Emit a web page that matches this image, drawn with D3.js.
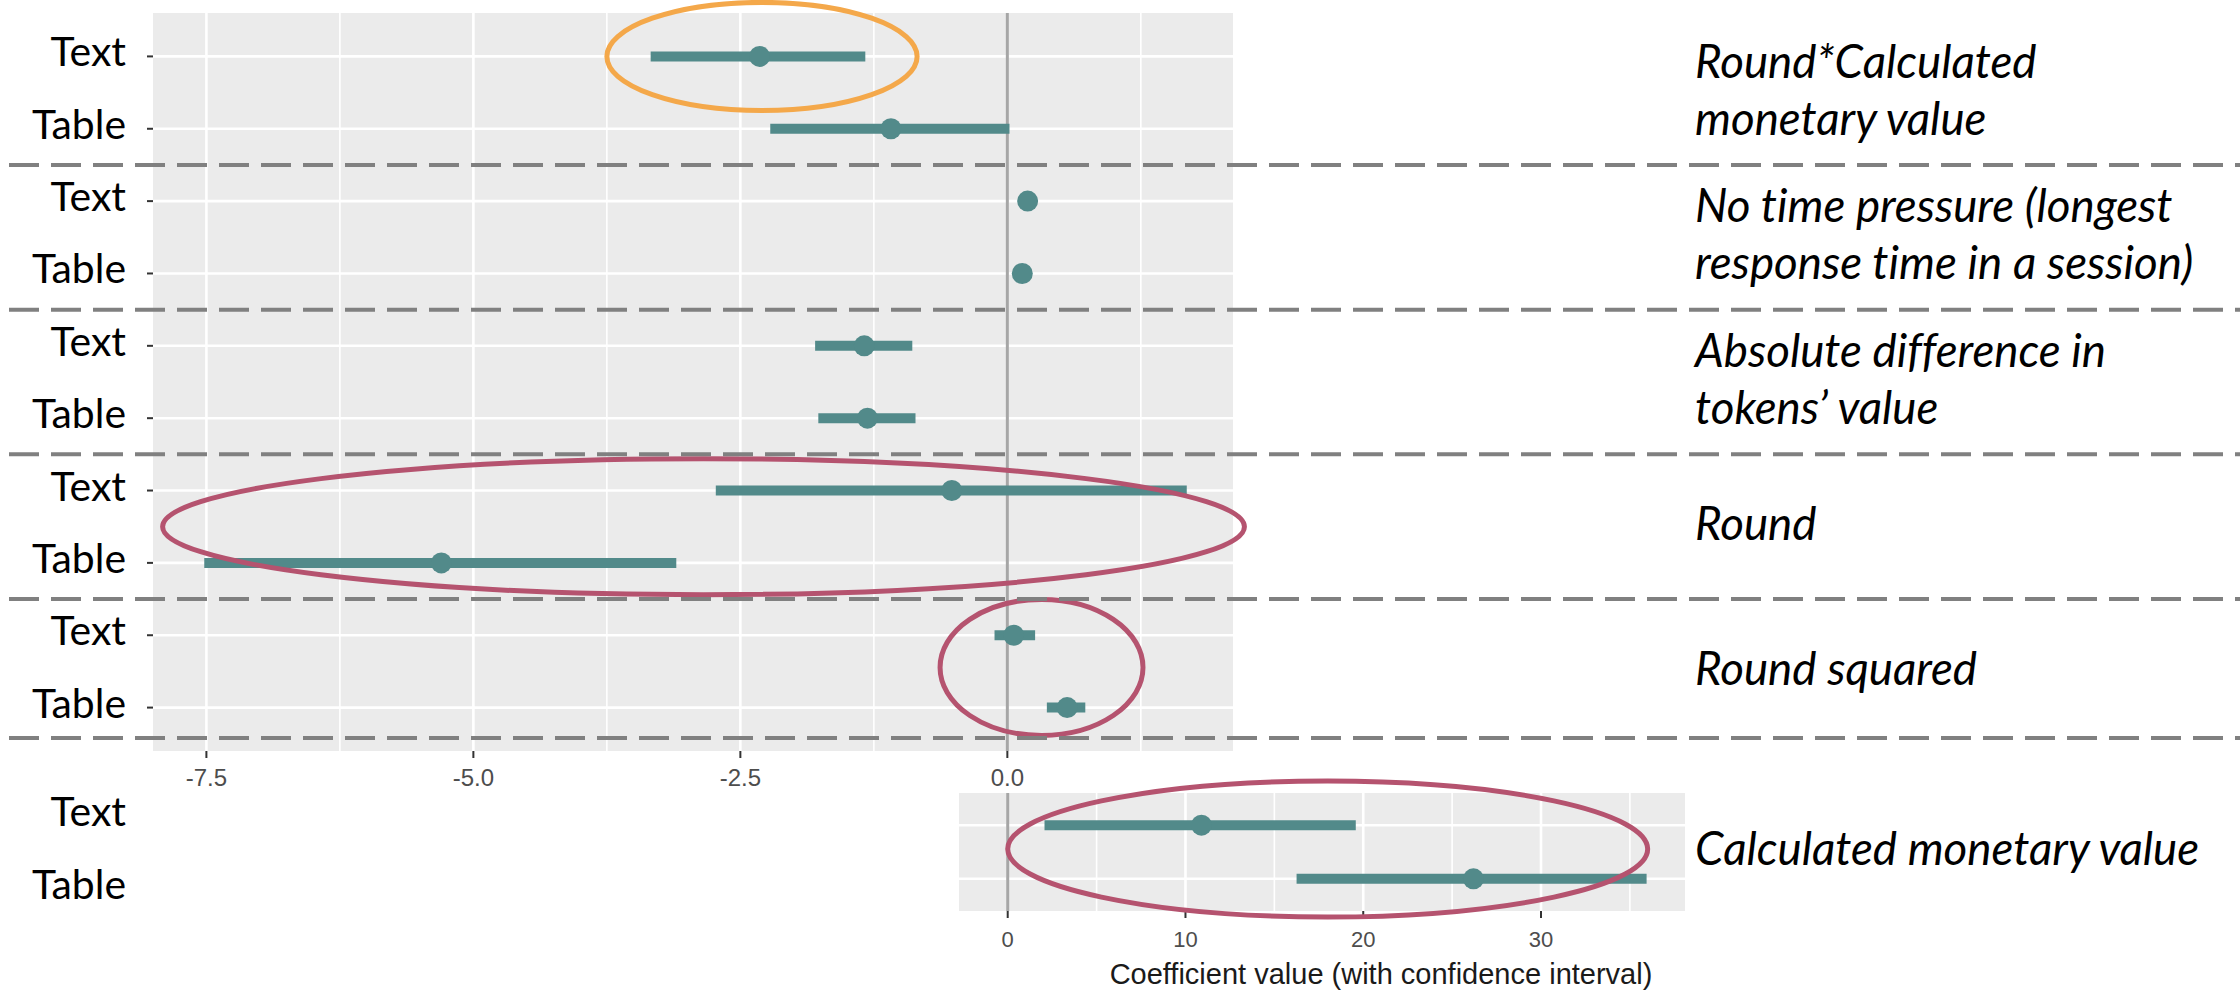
<!DOCTYPE html>
<html>
<head>
<meta charset="utf-8">
<script src="https://cdn.jsdelivr.net/npm/d3@7"></script>
<style>
  html, body { margin: 0; padding: 0; background: #fff; }
  svg { display: block; }
  text { font-variant-ligatures: none; }
</style>
</head>
<body>
<svg id="chart" width="2240" height="991"></svg>
<script>
// coefficient plot: Text vs Table, one pair of rows per regressor
const groupLabels = [
  ['Round*Calculated', 'monetary value'],
  ['No time pressure (longest', 'response time in a session)'],
  ['Absolute difference in', 'tokens’ value'],
  ['Round'],
  ['Round squared']
]
const variants = ['Text', 'Table']

const estimate = [-2.32, -1.09, 0.19, 0.14, -1.34, -1.31, -0.52, -5.30, 0.06, 0.56]
const ciLow = [-3.34, -2.22, 0.15, 0.10, -1.80, -1.77, -2.73, -7.52, -0.12, 0.37]
const ciHigh = [-1.33, 0.02, 0.23, 0.18, -0.89, -0.86, 1.68, -3.10, 0.26, 0.73]

const cmvLabel = ['Calculated monetary value']
const cmvEstimate = [10.9, 26.2]
const cmvLow = [2.07, 16.25]
const cmvHigh = [19.58, 35.94]

const topTicks = [-7.5, -5.0, -2.5, 0.0]
const topMinor = [-6.25, -3.75, -1.25, 1.25]
const bottomTicks = [0, 10, 20, 30]
const bottomMinor = [5, 15, 25, 35]
const xTitle = 'Coefficient value (with confidence interval)'

const TEAL = '#528a8a'
const ORANGE = '#f4a84a'
const PLUM = '#b5536f'

const svg = d3.select('#chart')

/**
 * Draws one ggplot-like panel with dot-and-whisker rows.
 */
function drawPanel (g, opts) {
  const { x, y, rows, est, lo, hi, major, minor, left, right, top, bottom } = opts
  g.append('rect')
    .attr('x', left).attr('y', top)
    .attr('width', right - left).attr('height', bottom - top)
    .attr('fill', '#ebebeb')

  g.selectAll('.minor').data(minor).enter().append('line')
    .attr('x1', d => x(d)).attr('x2', d => x(d))
    .attr('y1', top).attr('y2', bottom)
    .attr('stroke', '#fff').attr('stroke-width', 1.6)

  g.selectAll('.major').data(major).enter().append('line')
    .attr('x1', d => x(d)).attr('x2', d => x(d))
    .attr('y1', top).attr('y2', bottom)
    .attr('stroke', '#fff').attr('stroke-width', 2.6)

  g.selectAll('.hgrid').data(rows).enter().append('line')
    .attr('x1', left).attr('x2', right)
    .attr('y1', d => y(d)).attr('y2', d => y(d))
    .attr('stroke', '#fff').attr('stroke-width', 2.6)

  // zero reference line
  g.append('line')
    .attr('x1', x(0)).attr('x2', x(0))
    .attr('y1', top).attr('y2', bottom)
    .attr('stroke', '#a6a6a6').attr('stroke-width', 3)

  g.selectAll('.ci').data(rows).enter().append('line')
    .attr('x1', (d, i) => x(lo[i])).attr('x2', (d, i) => x(hi[i]))
    .attr('y1', d => y(d)).attr('y2', d => y(d))
    .attr('stroke', TEAL).attr('stroke-width', 10)

  g.selectAll('.pt').data(rows).enter().append('circle')
    .attr('cx', (d, i) => x(est[i])).attr('cy', d => y(d))
    .attr('r', 10.5)
    .attr('fill', TEAL)

  // x axis: ticks + labels
  const axis = g.append('g').attr('transform', 'translate(0,' + bottom + ')')
  axis.selectAll('line').data(major).enter().append('line')
    .attr('x1', d => x(d)).attr('x2', d => x(d))
    .attr('y1', 0).attr('y2', 7)
    .attr('stroke', '#333').attr('stroke-width', 2)
  axis.selectAll('text').data(major).enter().append('text')
    .attr('x', d => x(d))
    .attr('y', opts.labelDy)
    .attr('text-anchor', 'middle')
    .attr('font-family', 'Liberation Sans, Arial, sans-serif')
    .attr('font-size', opts.labelSize)
    .attr('fill', '#4d4d4d')
    .text(d => opts.fmt(d).replace('\u2212', '-'))
}

/* ---------------- top panel ---------------- */
const topBox = { left: 153, right: 1233, top: 13, bottom: 751 }
const rowIds = d3.range(estimate.length)
const xTop = d3.scaleLinear().domain([-8.0, 2.113]).range([topBox.left, topBox.right])
const yTop = d3.scalePoint().domain(rowIds).range([topBox.top, topBox.bottom]).padding(0.6)

drawPanel(svg.append('g'), {
  x: xTop, y: yTop, rows: rowIds, est: estimate, lo: ciLow, hi: ciHigh,
  major: topTicks, minor: topMinor, ...topBox,
  labelDy: 35, labelSize: 24, fmt: d3.format('.1f')
})

/* ---------------- bottom panel ---------------- */
const botBox = { left: 959, right: 1685, top: 793, bottom: 911 }
const botIds = d3.range(cmvEstimate.length)
const xBot = d3.scaleLinear().domain([-2.74, 38.1]).range([botBox.left, botBox.right])
const yBot = d3.scalePoint().domain(botIds).range([botBox.top, botBox.bottom]).padding(0.6)

drawPanel(svg.append('g'), {
  x: xBot, y: yBot, rows: botIds, est: cmvEstimate, lo: cmvLow, hi: cmvHigh,
  major: bottomTicks, minor: bottomMinor, ...botBox,
  labelDy: 36, labelSize: 22, fmt: d3.format('d')
})

svg.append('text')
  .attr('x', 1381).attr('y', 984)
  .attr('text-anchor', 'middle')
  .attr('font-family', 'Liberation Sans, Arial, sans-serif')
  .attr('font-size', 29)
  .attr('fill', '#1a1a1a')
  .text(xTitle)

/* ---------------- left row labels ---------------- */
const LABEL_FONT = 'Lato, "Open Sans", sans-serif'
function measure (txt, italic) {
  const probe = svg.append('text')
    .attr('font-family', LABEL_FONT)
    .attr('font-size', 100)
    .attr('font-style', italic ? 'italic' : 'normal')
    .text(txt)
  const w = probe.node().getComputedTextLength()
  probe.remove()
  return w
}

const leftSize = 100 * 94 / measure('Table', false)
const yTick = svg.append('g')
yTick.selectAll('line').data(rowIds).enter().append('line')
  .attr('x1', topBox.left - 6).attr('x2', topBox.left)
  .attr('y1', d => yTop(d)).attr('y2', d => yTop(d))
  .attr('stroke', '#333').attr('stroke-width', 2)

svg.append('g').selectAll('text').data(rowIds).enter().append('text')
  .attr('x', 126)
  .attr('y', d => yTop(d) + 10)
  .attr('text-anchor', 'end')
  .attr('font-family', LABEL_FONT)
  .attr('font-size', leftSize)
  .text(d => variants[d % 2])

// the pasted bottom panel keeps its own label positions
const botLabelY = [826, 899]
svg.append('g').selectAll('text').data(botIds).enter().append('text')
  .attr('x', 126)
  .attr('y', d => botLabelY[d])
  .attr('text-anchor', 'end')
  .attr('font-family', LABEL_FONT)
  .attr('font-size', leftSize)
  .text(d => variants[d])

/* ---------------- right group labels ---------------- */
// size chosen so a few reference lines keep their total width
const fitLines = [groupLabels[0][0], groupLabels[1][0], groupLabels[1][1], cmvLabel[0]]
const fitWidth = 352 + 487 + 506 + 477
const rightSize = 100 * fitWidth / d3.sum(fitLines, l => measure(l, true))
const lineGap = 57
const capHalf = rightSize * 0.36

function drawGroupLabel (lines, centerY) {
  const t = svg.append('text')
    .attr('font-family', LABEL_FONT)
    .attr('font-style', 'italic')
    .attr('font-size', rightSize)
    .attr('fill', '#000')
  lines.forEach((ln, i) => {
    t.append('tspan')
      .attr('x', 1695)
      .attr('y', centerY + capHalf - 3 + (i - (lines.length - 1) / 2) * lineGap)
      .text(ln)
  })
}

groupLabels.forEach((lines, gi) => {
  const cy = (yTop(gi * 2) + yTop(gi * 2 + 1)) / 2
  drawGroupLabel(lines, cy)
})
drawGroupLabel(cmvLabel, (yBot(0) + yBot(1)) / 2)

/* ---------------- dashed group separators ---------------- */
const step = yTop.step()
const sepY = groupLabels.map((d, gi) =>
  gi < groupLabels.length - 1 ? yTop(gi * 2 + 1) + step / 2 : yTop(gi * 2 + 1) + step * 0.42)

/* ---------------- highlight ellipses ---------------- */
function ellipse (x, x0, x1, cy, ry, color) {
  svg.append('ellipse')
    .attr('cx', (x(x0) + x(x1)) / 2).attr('cy', cy)
    .attr('rx', (x(x1) - x(x0)) / 2).attr('ry', ry)
    .attr('fill', 'none')
    .attr('stroke', color)
    .attr('stroke-width', 5)
}
ellipse(xTop, -3.75, -0.845, yTop(0), 54, ORANGE)
ellipse(xTop, -7.91, 2.22, (yTop(6) + yTop(7)) / 2, 68, PLUM)
ellipse(xTop, -0.63, 1.27, (yTop(8) + yTop(9)) / 2 - 4, 68, PLUM)
ellipse(xBot, 0, 36.0, (yBot(0) + yBot(1)) / 2 - 3, 68, PLUM)

svg.append('g').selectAll('line').data(sepY).enter().append('line')
  .attr('x1', 9).attr('x2', 2240)
  .attr('y1', d => d).attr('y2', d => d)
  .attr('stroke', '#808080')
  .attr('stroke-width', 4)
  .attr('stroke-dasharray', '30 12')
</script>
</body>
</html>
